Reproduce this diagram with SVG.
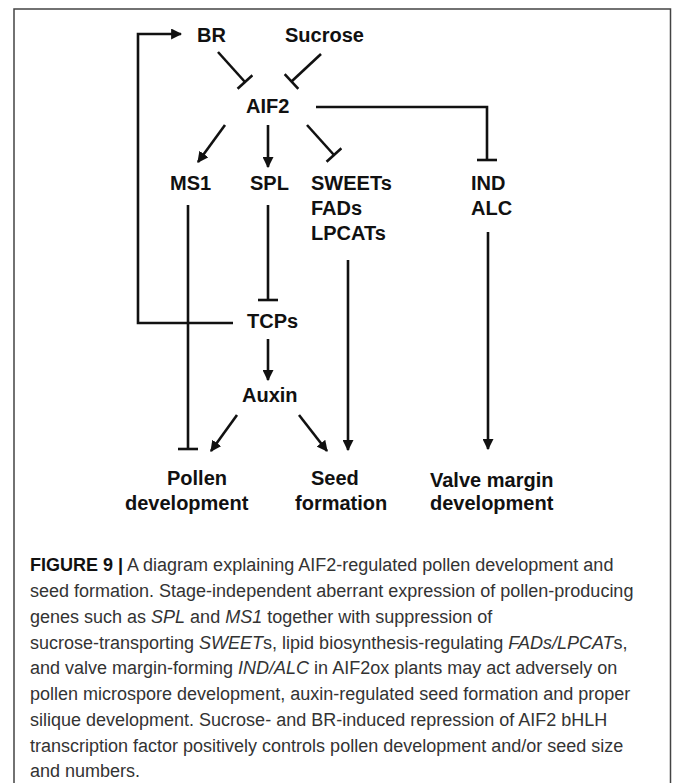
<svg xmlns="http://www.w3.org/2000/svg" width="673" height="783" viewBox="0 0 673 783">
<defs>
<style>
.n{font-family:"Liberation Sans",Arial,sans-serif;font-weight:bold;font-size:20px;fill:#111}
.c{stroke:#111;stroke-width:2.6;fill:none}
.cap{font-family:"Liberation Sans",Arial,sans-serif;font-size:18px;fill:#333}
.capb{font-weight:bold;fill:#111}
.i{font-style:italic}
</style>
<marker id="arr" viewBox="0 0 10 10" refX="9" refY="5" markerWidth="11" markerHeight="11" markerUnits="userSpaceOnUse" orient="auto">
<path d="M0,0 L10,5 L0,10 z" fill="#111"/>
</marker>
<marker id="bar" viewBox="-2 -10 4 20" refX="0" refY="0" markerWidth="4" markerHeight="20" markerUnits="userSpaceOnUse" orient="auto">
<path d="M0,-10 L0,10" stroke="#111" stroke-width="2.6"/>
</marker>
</defs>
<rect width="673" height="783" fill="#fff"/>
<path d="M14,783 V9 H670.5 V783" fill="none" stroke="#444" stroke-width="1.5"/>
<g id="connectors">
<path class="c" d="M233,323 H138 V34 H181" marker-end="url(#arr)"/>
<path class="c" d="M218,52 L245,82" marker-end="url(#bar)"/>
<path class="c" d="M321,54 L291.5,81.5" marker-end="url(#bar)"/>
<path class="c" d="M316,107 H487 V160" marker-end="url(#bar)"/>
<path class="c" d="M225,125 L198,162" marker-end="url(#arr)"/>
<path class="c" d="M268,125 V167" marker-end="url(#arr)"/>
<path class="c" d="M307,125 L334,155" marker-end="url(#bar)"/>
<path class="c" d="M188,205 V449" marker-end="url(#bar)"/>
<path class="c" d="M268,205 V300" marker-end="url(#bar)"/>
<path class="c" d="M268,339 V380" marker-end="url(#arr)"/>
<path class="c" d="M348,260 V450" marker-end="url(#arr)"/>
<path class="c" d="M488,232 V449" marker-end="url(#arr)"/>
<path class="c" d="M237,415 L211,451" marker-end="url(#arr)"/>
<path class="c" d="M299,415 L327,451" marker-end="url(#arr)"/>
</g>
<g id="BR"><text class="n" x="197" y="42">BR</text></g>
<g id="Sucrose"><text class="n" x="285" y="42">Sucrose</text></g>
<g id="AIF2"><text class="n" x="246" y="113">AIF2</text></g>
<g id="MS1"><text class="n" x="170" y="190">MS1</text></g>
<g id="SPL"><text class="n" x="250" y="190">SPL</text></g>
<g id="SWEETs"><text class="n" x="311" y="190">SWEETs</text><text class="n" x="311" y="215">FADs</text><text class="n" x="311" y="240">LPCATs</text></g>
<g id="IND"><text class="n" x="471" y="190">IND</text><text class="n" x="471" y="215">ALC</text></g>
<g id="TCPs"><text class="n" x="247" y="328">TCPs</text></g>
<g id="Auxin"><text class="n" x="242" y="402">Auxin</text></g>
<g id="Pollen"><text class="n" x="167" y="485">Pollen</text><text class="n" x="125" y="510">development</text></g>
<g id="Seed"><text class="n" x="311" y="485">Seed</text><text class="n" x="295" y="510">formation</text></g>
<g id="Valve"><text class="n" x="430" y="487">Valve margin</text><text class="n" x="430" y="510">development</text></g>
<g id="caption" class="cap">
<text x="30" y="571"><tspan class="capb">FIGURE 9 |</tspan> A diagram explaining AIF2-regulated pollen development and</text>
<text x="30" y="597">seed formation. Stage-independent aberrant expression of pollen-producing</text>
<text x="30" y="623">genes such as <tspan class="i">SPL</tspan> and <tspan class="i">MS1</tspan> together with suppression of</text>
<text x="30" y="649">sucrose-transporting <tspan class="i">SWEET</tspan>s, lipid biosynthesis-regulating <tspan class="i">FADs/LPCAT</tspan>s,</text>
<text x="30" y="674">and valve margin-forming <tspan class="i">IND/ALC</tspan> in AIF2ox plants may act adversely on</text>
<text x="30" y="700">pollen microspore development, auxin-regulated seed formation and proper</text>
<text x="30" y="726">silique development. Sucrose- and BR-induced repression of AIF2 bHLH</text>
<text x="30" y="752">transcription factor positively controls pollen development and/or seed size</text>
<text x="30" y="777">and numbers.</text>
</g>
</svg>
